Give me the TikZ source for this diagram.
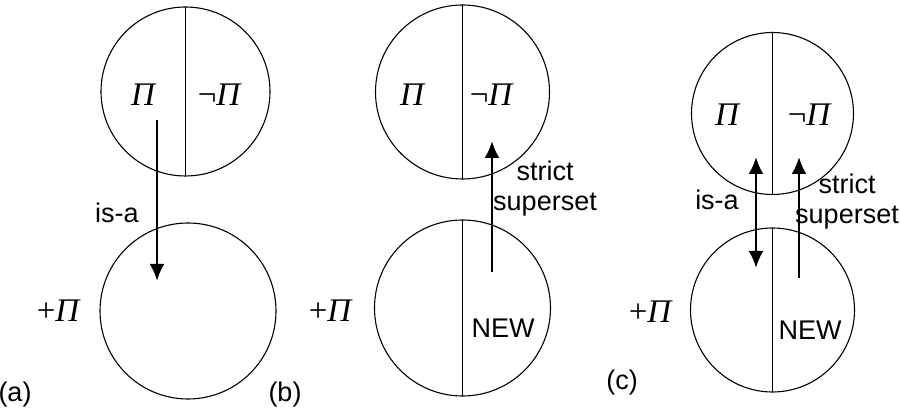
\documentclass[tikz,border=0pt]{standalone}
\usepackage{fontspec}
\setmainfont{Liberation Sans}
\newfontfamily\pifont{Liberation Serif}
\usepackage{tikz}
\usetikzlibrary{arrows.meta}
\tikzset{
  ring/.style={circle, draw=black, line width=0.55pt, inner sep=0pt, outer sep=0pt},
  split/.style={line width=0.55pt, draw=black},
  rel/.style={line width=1.3pt, draw=black, -{Latex[length=8.5pt,width=7.5pt]}},
  relboth/.style={line width=1.3pt, draw=black, {Latex[length=8.5pt,width=7.5pt]}-{Latex[length=8.5pt,width=7.5pt]}},
  lab/.style={inner sep=0pt, font=\fontsize{13.5}{15}\selectfont},
  pilab/.style={inner sep=0pt, font=\fontsize{16.5}{18}\pifont\itshape},
}
\newcommand{\negpi}{{\upshape ¬}Π}

\begin{document}
\begin{tikzpicture}[x=0.5pt,y=-0.5pt]
\useasboundingbox (0,0) rectangle (900,410);
% (a)
\node[ring, minimum size=84.5pt] (topA) at (185.5,91.5) {};
\node[ring, minimum size=88pt] (botA) at (188,311) {};
\draw[split] (topA.north) -- (topA.south);
\node[pilab] (piA) at (143,95) {Π};
\node[pilab] (npiA) at (219,95) {\negpi};
\node[pilab] (ppiA) at (58,311) {{\upshape +}Π};
\coordinate (isaA1) at (157,120);
\coordinate (isaA2) at (157,281);
\draw[rel] (isaA1) -- (isaA2);
\node[lab] (isaAlab) at (117,213) {is-a};
\node[lab] (capA) at (15,395) {(a)};
% (b)
\node[ring, minimum size=87pt] (topB) at (462.5,92) {};
\node[ring, minimum size=88pt] (botB) at (462.5,308) {};
\draw[split] (topB.north) -- (topB.south);
\draw[split] (botB.north) -- (botB.south);
\node[pilab] (piB) at (412,95) {Π};
\node[pilab] (npiB) at (491,95) {\negpi};
\node[pilab] (ppiB) at (330,311) {{\upshape +}Π};
\node[lab] (newB) at (503,328) {NEW};
\coordinate (supB1) at (492,272);
\coordinate (supB2) at (492,141);
\draw[rel] (supB1) -- (supB2);
\node[lab, align=center] (supBlab) at (545,189) {strict\\superset};
\node[lab] (capB) at (285,395) {(b)};
% (c)
\node[ring, minimum size=81pt] (topC) at (772.5,113.5) {};
\node[ring, minimum size=82pt] (botC) at (772.5,310) {};
\draw[split] (topC.north) -- (topC.south);
\draw[split] (botC.north) -- (botC.south);
\node[pilab] (piC) at (727,115) {Π};
\node[pilab] (npiC) at (809,115) {\negpi};
\node[pilab] (ppiC) at (650,312) {{\upshape +}Π};
\node[lab] (newC) at (810,330) {NEW};
\coordinate (isaC1) at (756,157);
\coordinate (isaC2) at (756,268);
\draw[relboth] (isaC1) -- (isaC2);
\node[lab] (isaClab) at (717,200) {is-a};
\coordinate (supC1) at (799,278);
\coordinate (supC2) at (799,157);
\draw[rel] (supC1) -- (supC2);
\node[lab, align=center] (supClab) at (847,202) {strict\\superset};
\node[lab] (capC) at (622,383) {(c)};
\end{tikzpicture}
\end{document}
